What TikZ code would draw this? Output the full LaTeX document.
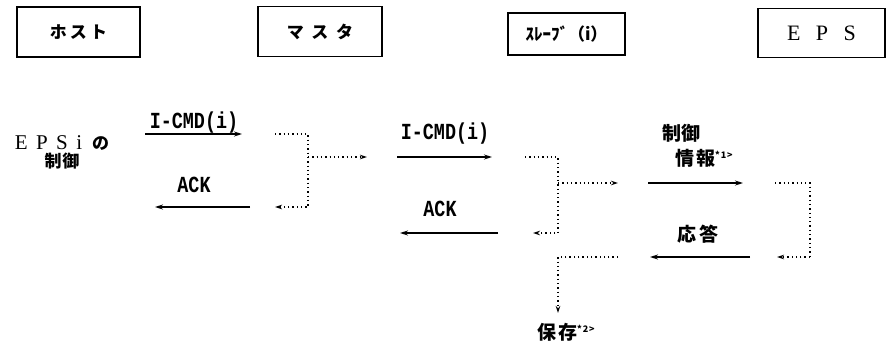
\documentclass[tikz,border=0pt]{standalone}
\usepackage{fontspec}
\usepackage{tikz}
\usetikzlibrary{arrows.meta, positioning}
\setmainfont{Noto Sans CJK JP}
\newfontfamily\msgfont[FakeStretch=0.8]{Liberation Mono}
\newfontfamily\latinfont{Liberation Serif}
\newcommand{\jpsize}[1]{\fontsize{#1}{#1}\selectfont}
\newcommand{\note}[1]{\raisebox{7pt}{\jpsize{9}#1}}
\tikzset{
    actor/.style={
        draw=black,
        line width=1.2pt,
        minimum width=#1,
        minimum height=50pt,
        font=\bfseries\jpsize{17},
        inner sep=0pt
    },
    actor/.default=123pt,
    msg/.style={
        -{Stealth[length=8pt,width=5pt]},
        line width=1.2pt
    },
    relay/.style={
        line width=1.1pt,
        dash pattern=on 1.3pt off 3pt
    },
    relayarrow/.style={
        relay,
        -{Stealth[length=7pt,width=4.5pt]}
    },
    msglabel/.style={
        font=\msgfont\bfseries\jpsize{23},
        inner sep=0pt
    },
    jplabel/.style={
        font=\bfseries\jpsize{19},
        inner sep=0pt,
        align=center
    }
}
\begin{document}
\begin{tikzpicture}[x=1pt, y=-1pt]
    \useasboundingbox (0,0) rectangle (890,348);

    % Actors
    \node[actor=123pt] (host) at (78.5,32) {\addfontfeatures{LetterSpace=18}ホスト};
    \node[actor=124pt] (master) at (320,31.5) {\addfontfeatures{LetterSpace=45}マスタ};
    \node[actor=117pt, minimum height=42pt] (slave) at (566.5,34) {ｽﾚｰﾌﾞ（i）};
    \node[actor=127pt, minimum height=49pt] (eps) at (821.5,33)
        {\latinfont\mdseries\jpsize{22}\addfontfeatures{LetterSpace=70}EPS};

    % Trigger
    \node[jplabel, font=\bfseries\jpsize{17}] (control) at (62,152)
        {{\latinfont\mdseries\jpsize{21}\addfontfeatures{LetterSpace=40}EPSi}\hspace{10pt}の\\[1pt]{\addfontfeatures{LetterSpace=5}制御}};

    % Message end points
    \coordinate (cmdA) at (145,134);
    \coordinate (cmdB) at (242,134);
    \coordinate (hopA) at (275,134);
    \coordinate (hopB) at (308,207);
    \coordinate (hopC) at (275,207);
    \coordinate (fwdA) at (308,157);
    \coordinate (fwdB) at (367,157);
    \coordinate (ackA) at (250,207);
    \coordinate (ackB) at (155,207);
    \coordinate (cmdC) at (397,157);
    \coordinate (cmdD) at (492,157);
    \coordinate (hopD) at (525,157);
    \coordinate (hopE) at (558,233);
    \coordinate (hopF) at (533,233);
    \coordinate (fwdC) at (558,183);
    \coordinate (fwdD) at (618,183);
    \coordinate (ackC) at (498,233);
    \coordinate (ackD) at (400,233);
    \coordinate (infoA) at (648,183);
    \coordinate (infoB) at (743,183);
    \coordinate (hopG) at (775,183);
    \coordinate (hopH) at (810,257);
    \coordinate (hopI) at (777,257);
    \coordinate (respA) at (750,257);
    \coordinate (respB) at (650,257);
    \coordinate (saveA) at (618,257);
    \coordinate (saveB) at (558,313);

    % Host -> master
    \draw[msg] (cmdA) -- (cmdB);
    \node[msglabel] (cmd1) at (194,123) {I-CMD(i)};
    \draw[relayarrow] (hopA) -| (hopB) -- (hopC);
    \draw[relayarrow] (fwdA) -- (fwdB);
    \draw[msg] (ackA) -- (ackB);
    \node[msglabel] (ack1) at (194,185) {ACK};

    % Master -> slave
    \draw[msg] (cmdC) -- (cmdD);
    \node[msglabel] (cmd2) at (445,134) {I-CMD(i)};
    \draw[relayarrow] (hopD) -| (hopE) -- (hopF);
    \draw[relayarrow] (fwdC) -- (fwdD);
    \draw[msg] (ackC) -- (ackD);
    \node[msglabel] (ack2) at (440,209) {ACK};

    % Slave -> EPS
    \draw[msg] (infoA) -- (infoB);
    \node[jplabel, anchor=west] (info1) at (662,133) {制御};
    \node[jplabel, anchor=west] (info2) at (675,158) {\addfontfeatures{LetterSpace=10}情報\note{*1>}};
    \draw[relay] (hopG) -| (hopH);
    \draw[relayarrow] (hopH) -- (hopI);
    \draw[msg] (respA) -- (respB);
    \node[jplabel] (resp) at (698,234) {\addfontfeatures{LetterSpace=12}応答};

    % Save
    \draw[relayarrow] (saveA) -| (saveB);
    \node[jplabel, anchor=west] (save) at (537,332) {\addfontfeatures{LetterSpace=10}保存\note{*2>}};
\end{tikzpicture}
\end{document}
